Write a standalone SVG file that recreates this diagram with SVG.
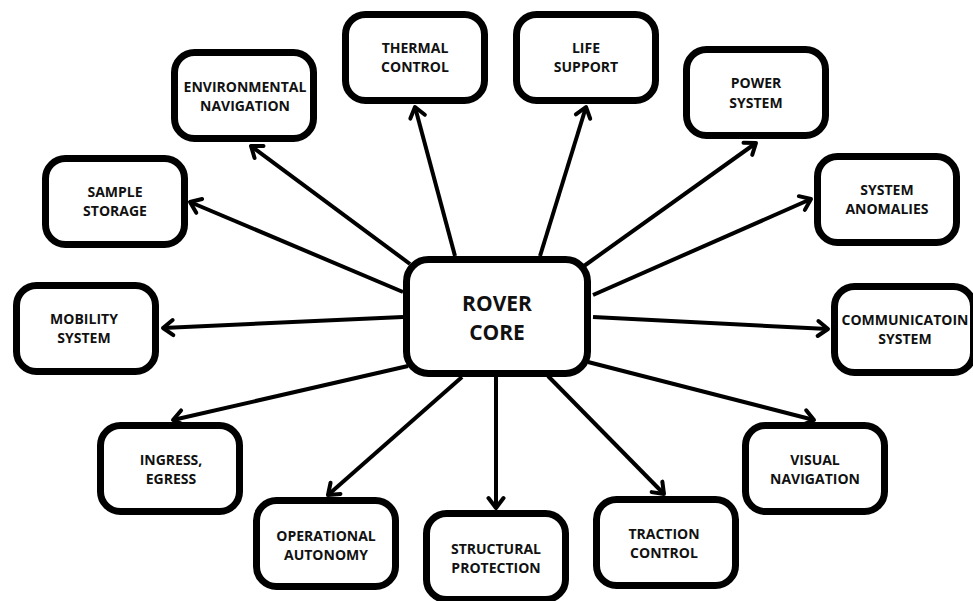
<svg xmlns="http://www.w3.org/2000/svg" width="973" height="601" viewBox="0 0 973 601">
  <style>
    .box { fill: #ffffff; stroke: #000000; stroke-width: 7; }
    .label { font-family: "Open Sans", "Liberation Sans", sans-serif; font-weight: 700; font-size: 14px; fill: #111111; text-anchor: middle; }
    .core { font-size: 21px; }
    .link { stroke: #000000; stroke-width: 4; fill: none; marker-end: url(#arrow); }
  </style>
  <defs>
    <marker id="arrow" markerUnits="userSpaceOnUse" markerWidth="24" markerHeight="24" viewBox="-14 -12 18 24" refX="0" refY="0" orient="auto">
      <path d="M-10,-7.5 L0,0 L-10,7.5" fill="none" stroke="#000000" stroke-width="4" stroke-linecap="round" stroke-linejoin="round"/>
    </marker>
  </defs>
  <rect width="973" height="601" fill="#ffffff"/>

  <!-- spokes from the core to each subsystem -->
  <g id="connectors">
    <line class="link" x1="410" y1="264" x2="251" y2="146"/>
    <line class="link" x1="455" y1="256" x2="415" y2="107"/>
    <line class="link" x1="540" y1="256" x2="586" y2="107"/>
    <line class="link" x1="584" y1="266" x2="756" y2="143"/>
    <line class="link" x1="593" y1="295" x2="811" y2="199"/>
    <line class="link" x1="593" y1="317" x2="828" y2="329"/>
    <line class="link" x1="588" y1="362" x2="814" y2="420"/>
    <line class="link" x1="548" y1="376" x2="664" y2="494"/>
    <line class="link" x1="496" y1="377" x2="496" y2="508"/>
    <line class="link" x1="462" y1="377" x2="328" y2="495"/>
    <line class="link" x1="408" y1="366" x2="173" y2="420"/>
    <line class="link" x1="403" y1="317" x2="163" y2="328"/>
    <line class="link" x1="403" y1="292" x2="190" y2="202"/>
  </g>

  <g id="rover-core">
    <rect class="box" x="406.5" y="259.5" width="181" height="114" rx="22"/>
    <text class="label core" x="497" y="310.5">ROVER</text>
    <text class="label core" x="497" y="339.5">CORE</text>
  </g>

  <g id="environmental-navigation">
    <rect class="box" x="174.5" y="52.5" width="139" height="86" rx="20"/>
    <text class="label" x="245" y="92">ENVIRONMENTAL</text>
    <text class="label" x="245" y="110.5">NAVIGATION</text>
  </g>

  <g id="thermal-control">
    <rect class="box" x="345.5" y="14.5" width="139" height="86" rx="20"/>
    <text class="label" x="415" y="53">THERMAL</text>
    <text class="label" x="415" y="72">CONTROL</text>
  </g>

  <g id="life-support">
    <rect class="box" x="516.5" y="14.5" width="139" height="86" rx="20"/>
    <text class="label" x="586" y="53">LIFE</text>
    <text class="label" x="586" y="72">SUPPORT</text>
  </g>

  <g id="power-system">
    <rect class="box" x="686.5" y="49.5" width="139" height="86" rx="20"/>
    <text class="label" x="756" y="88">POWER</text>
    <text class="label" x="756" y="107.5">SYSTEM</text>
  </g>

  <g id="system-anomalies">
    <rect class="box" x="817.5" y="156.5" width="139" height="86" rx="20"/>
    <text class="label" x="887" y="195">SYSTEM</text>
    <text class="label" x="887" y="214">ANOMALIES</text>
  </g>

  <g id="communication-system">
    <rect class="box" x="834.5" y="286.5" width="139" height="86" rx="20"/>
    <text class="label" x="905" y="324.5">COMMUNICATOIN</text>
    <text class="label" x="905" y="343.5">SYSTEM</text>
  </g>

  <g id="visual-navigation">
    <rect class="box" x="745.5" y="425.5" width="139" height="86" rx="20"/>
    <text class="label" x="815" y="465">VISUAL</text>
    <text class="label" x="815" y="483.5">NAVIGATION</text>
  </g>

  <g id="traction-control">
    <rect class="box" x="596.5" y="499.5" width="139" height="86" rx="20"/>
    <text class="label" x="664" y="539">TRACTION</text>
    <text class="label" x="664" y="558">CONTROL</text>
  </g>

  <g id="structural-protection">
    <rect class="box" x="426.5" y="513.5" width="139" height="86" rx="20"/>
    <text class="label" x="496" y="554">STRUCTURAL</text>
    <text class="label" x="496" y="572.5">PROTECTION</text>
  </g>

  <g id="operational-autonomy">
    <rect class="box" x="256.5" y="500.5" width="139" height="86" rx="20"/>
    <text class="label" x="326" y="541">OPERATIONAL</text>
    <text class="label" x="326" y="559.5">AUTONOMY</text>
  </g>

  <g id="ingress-egress">
    <rect class="box" x="100.5" y="425.5" width="139" height="86" rx="20"/>
    <text class="label" x="171" y="465">INGRESS,</text>
    <text class="label" x="171" y="483.5">EGRESS</text>
  </g>

  <g id="mobility-system">
    <rect class="box" x="16.5" y="285.5" width="139" height="86" rx="20"/>
    <text class="label" x="84" y="324">MOBILITY</text>
    <text class="label" x="84" y="343">SYSTEM</text>
  </g>

  <g id="sample-storage">
    <rect class="box" x="45.5" y="158.5" width="139" height="86" rx="20"/>
    <text class="label" x="115" y="197">SAMPLE</text>
    <text class="label" x="115" y="216">STORAGE</text>
  </g>
</svg>
